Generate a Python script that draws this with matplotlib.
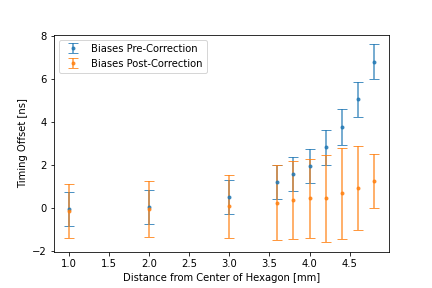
import matplotlib
matplotlib.use("Agg")
import matplotlib.pyplot as plt

distance = [1.0, 2.0, 3.0, 3.6, 3.8, 4.0, 4.2, 4.4, 4.6, 4.8]

pre_bias = [-0.06, 0.05, 0.50, 1.20, 1.57, 1.94, 2.82, 3.76, 5.05, 6.79]
pre_err = [0.79, 0.77, 0.79, 0.80, 0.78, 0.79, 0.80, 0.82, 0.82, 0.81]

post_bias = [-0.14, -0.05, 0.08, 0.25, 0.37, 0.45, 0.45, 0.68, 0.92, 1.24]
post_err = [1.25, 1.30, 1.47, 1.75, 1.80, 1.85, 2.03, 2.10, 1.96, 1.25]

fig, ax = plt.subplots(figsize=(6, 4), dpi=72)
fig.subplots_adjust(bottom=0.125)

ax.errorbar(distance, pre_bias, yerr=pre_err, fmt='.', capsize=5,
            alpha=0.8, label='Biases Pre-Correction')
ax.errorbar(distance, post_bias, yerr=post_err, fmt='.', capsize=5,
            alpha=0.8, label='Biases Post-Correction')

ax.set_xlabel('Distance from Center of Hexagon [mm]')
ax.set_ylabel('Timing Offset [ns]')
ax.legend(loc='upper left')

fig.savefig('out.png', dpi=72)
